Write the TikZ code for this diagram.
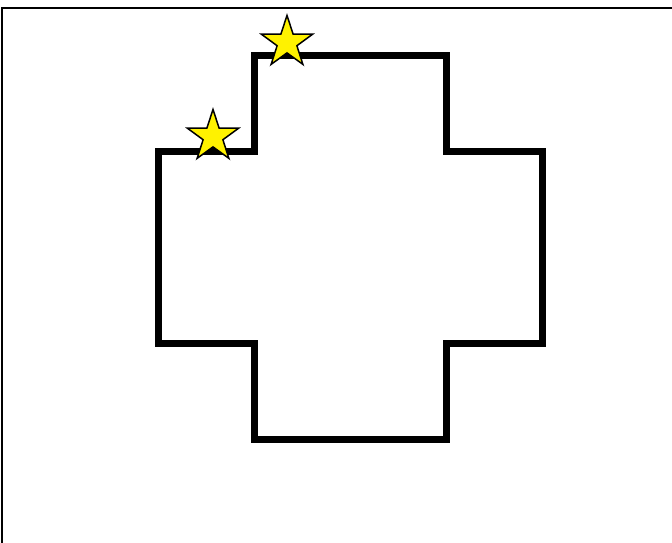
\documentclass[tikz,border=0pt]{standalone}
\begin{document}
\begin{tikzpicture}[x=1pt,y=-1pt,
  frameline/.style={line width=2pt,black},
  crossline/.style={line width=7pt,black,line join=miter},
  starfill/.style={draw=black,line width=1.5pt,fill=yellow,line join=miter}]
\useasboundingbox (0,0) rectangle (672,542);
\coordinate (fbl) at (2,545);
\coordinate (ftl) at (2,7.7);
\coordinate (ftr) at (675,7.7);
\draw[frameline] (fbl) -- (ftl) -- (ftr);
\draw[crossline] (158.6,151) -- (254.5,151) -- (254.5,55.5) -- (446.5,55.5) -- (446.5,151) -- (542.5,151) -- (542.5,343.5) -- (446.5,343.5) -- (446.5,439.5) -- (254.5,439.5) -- (254.5,343.5) -- (158.6,343.5) -- cycle;
\begin{scope}[shift={(287,42.5)}]
\coordinate (s1) at (0,0);
\draw[starfill] (-90:27) \foreach \k in {1,...,9} { -- ({-90+36*\k}:{ifthenelse(isodd(\k),10.4,27)}) } -- cycle;
\end{scope}
\begin{scope}[shift={(213,136.5)}]
\coordinate (s2) at (0,0);
\draw[starfill] (-90:27) \foreach \k in {1,...,9} { -- ({-90+36*\k}:{ifthenelse(isodd(\k),10.4,27)}) } -- cycle;
\end{scope}
\end{tikzpicture}
\end{document}
